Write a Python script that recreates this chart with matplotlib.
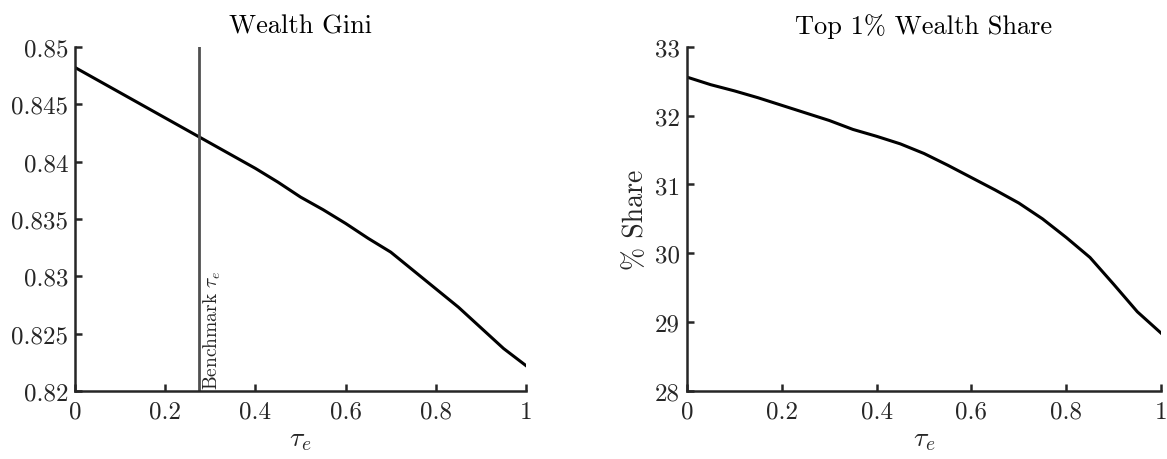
import numpy as np
import matplotlib
matplotlib.use("Agg")
from matplotlib import pyplot as plt
from matplotlib.ticker import FuncFormatter

plt.rcParams['font.family'] = ['cmr10', 'DejaVu Serif']
plt.rcParams['mathtext.fontset'] = 'cm'
plt.rcParams['axes.formatter.use_mathtext'] = True

# tau_e grid
tau = [0.0, 0.05, 0.1, 0.15, 0.2, 0.25, 0.3, 0.35, 0.4, 0.45, 0.5,
       0.55, 0.6, 0.65, 0.7, 0.75, 0.8, 0.85, 0.9, 0.95, 1.0]

# wealth gini
gini = [0.8482, 0.8471, 0.8460, 0.8449, 0.8438, 0.8427, 0.8416, 0.8405,
        0.8394, 0.8382, 0.8369, 0.8358, 0.8346, 0.8333, 0.8321, 0.8305,
        0.8289, 0.8273, 0.8255, 0.8237, 0.8222]

# top 1% share (%)
top1 = [32.56, 32.45, 32.36, 32.26, 32.15, 32.04, 31.93, 31.80, 31.70,
        31.59, 31.45, 31.28, 31.10, 30.92, 30.73, 30.50, 30.23, 29.94,
        29.55, 29.15, 28.84]

benchmark = 0.275

axc = '#262626'
fmt = FuncFormatter(lambda v, p: '%g' % round(v, 4))

fig = plt.figure(figsize=(11.67, 4.6), dpi=100)
ax1 = fig.add_axes([0.0643, 0.148, 0.3865, 0.748])
ax2 = fig.add_axes([0.5887, 0.148, 0.4062, 0.748])

for ax in (ax1, ax2):
    for s in ['top', 'right']:
        ax.spines[s].set_visible(False)
    for s in ['left', 'bottom']:
        ax.spines[s].set_linewidth(1.8)
        ax.spines[s].set_color(axc)
    ax.tick_params(direction='in', length=5, width=1.8, color=axc,
                   labelsize=18, labelcolor=axc)
    ax.tick_params(axis='x', pad=7)
    ax.tick_params(axis='y', pad=5)
    ax.set_xlim(0, 1)
    ax.set_xticks([0, 0.2, 0.4, 0.6, 0.8, 1])
    ax.xaxis.set_major_formatter(fmt)
    ax.yaxis.set_major_formatter(fmt)
    ax.set_xlabel(r'$\tau_e$', fontsize=20, color=axc, labelpad=2)

ax1.plot(tau, gini, color='black', lw=2.2)
ax1.axvline(benchmark, color='#505050', lw=2)
ax1.text(benchmark + 0.006, 0.8202, r'Benchmark $\tau_e$', rotation=90,
         fontsize=14, color=axc, ha='left', va='bottom')
ax1.set_ylim(0.82, 0.85)
ax1.set_yticks([0.82, 0.825, 0.83, 0.835, 0.84, 0.845, 0.85])
ax1.set_title('Wealth Gini', fontsize=19, color='black', pad=10)

ax2.plot(tau, top1, color='black', lw=2.2)
ax2.set_ylim(28, 33)
ax2.set_yticks([28, 29, 30, 31, 32, 33])
ax2.set_ylabel(r'% Share', fontsize=20, color=axc)
ax2.set_title(r'Top 1% Wealth Share', fontsize=19, color='black', pad=10)

plt.savefig('out.png', dpi=100)
